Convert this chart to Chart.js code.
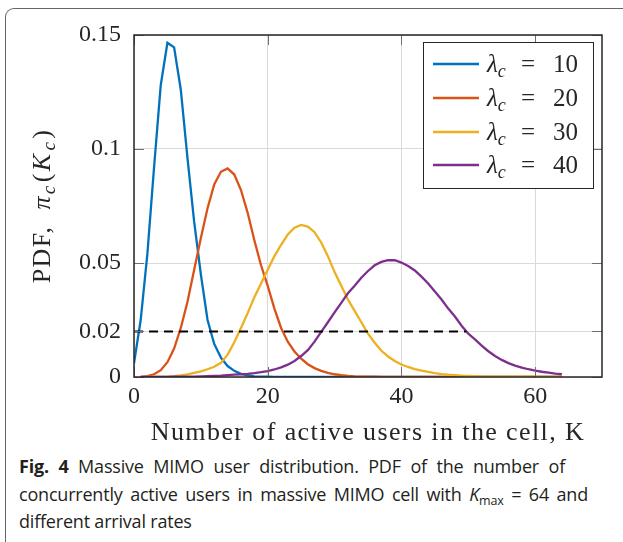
<!DOCTYPE html>
<html>
<head>
<meta charset="utf-8">
<script src="https://cdn.jsdelivr.net/npm/chart.js@4.4.0/dist/chart.umd.min.js"></script>
<style>
  body { margin: 0; background: #fff; width: 623px; height: 542px; overflow: hidden; position: relative; }
  #frame { position: absolute; left: 5px; top: 8px; width: 700px; height: 600px;
           border-left: 1.5px solid #666; border-top: 1.5px solid #666; border-top-left-radius: 9px; }
  #chart { position: absolute; left: 0; top: 0; }
  #caption { position: absolute; left: 19px; top: 453px; font-family: 'Open Sans', sans-serif;
             font-size: 18px; line-height: 27.5px; color: #231f20; white-space: nowrap; letter-spacing: -0.2px; }
  #caption .just { text-align: justify; text-align-last: justify; white-space: normal; }
  #caption b { font-weight: 700; }
  #caption sub { font-size: 12.5px; vertical-align: -4px; line-height: 0; }
</style>
</head>
<body>
<div id="frame"></div>
<canvas id="chart" width="623" height="450"></canvas>
<div id="caption">
  <div class="just" style="width:546px"><b>Fig. 4</b> Massive MIMO user distribution. PDF of the number of</div>
  <div class="just" style="width:569px">concurrently active users in massive MIMO cell with <i>K</i><sub>max</sub> = 64 and</div>
  <div>different arrival rates</div>
</div>
<script>
// Number of users K
const kUsers = [0, 1, 2, 3, 4, 5, 6, 7, 8, 9, 10, 11, 12, 13, 14, 15, 16, 17, 18, 19, 20,
  21, 22, 23, 24, 25, 26, 27, 28, 29, 30, 31, 32, 33, 34, 35, 36, 37, 38, 39, 40,
  41, 42, 43, 44, 45, 46, 47, 48, 49, 50, 51, 52, 53, 54, 55, 56, 57, 58, 59, 60,
  61, 62, 63, 64];

// PDF values, one per K
const pdfLambda10 = [0.006, 0.025, 0.054, 0.092, 0.128, 0.1466, 0.1446, 0.126, 0.096, 0.068, 0.045,
  0.025, 0.0145, 0.0085, 0.0048, 0.0027, 0.0014, 0.0007, 0.0003, 0.0002, 0.0001,
  0, 0, 0, 0, 0, 0, 0, 0, 0, 0, 0, 0, 0, 0, 0, 0, 0, 0, 0, 0,
  0, 0, 0, 0, 0, 0, 0, 0, 0, 0, 0, 0, 0, 0, 0, 0, 0, 0, 0, 0,
  0, 0, 0, 0];
const pdfLambda20 = [null, 0.0001, 0.0004, 0.0012, 0.003, 0.0065, 0.0125, 0.0215, 0.033, 0.047, 0.061,
  0.074, 0.0845, 0.090, 0.0915, 0.0888, 0.082, 0.072, 0.060, 0.049, 0.040,
  0.030, 0.0215, 0.0155, 0.0112, 0.008, 0.0056, 0.0039, 0.0027, 0.0018, 0.0012,
  0.0008, 0.0005, 0.0003, 0.0002, 0.0001, 0.0001, 0, 0, 0, 0,
  0, 0, 0, 0, 0, 0, 0, 0, 0, 0, 0, 0, 0, 0, 0, 0, 0, 0, 0, 0,
  0, 0, 0, 0];
const pdfLambda30 = [null, 0, 0, 0.0001, 0.0001, 0.0002, 0.0004, 0.0007, 0.0012, 0.0018, 0.0025,
  0.0034, 0.0045, 0.0062, 0.0098, 0.0152, 0.0215, 0.028, 0.035, 0.041, 0.047,
  0.053, 0.058, 0.0625, 0.0655, 0.0667, 0.066, 0.0635, 0.059, 0.053, 0.046,
  0.040, 0.034, 0.029, 0.024, 0.019, 0.015, 0.0115, 0.009, 0.007, 0.0055,
  0.0044, 0.0035, 0.0028, 0.0022, 0.0017, 0.0013, 0.001, 0.0008, 0.0006, 0.0005,
  0.0004, 0.0003, 0.0002, 0.0002, 0.0002, 0.0001, 0.0001, 0.0001, 0.0001, 0.0001,
  0, 0, 0, 0];
const pdfLambda40 = [null, 0, 0, 0, 0, 0, 0.0001, 0.0001, 0.0002, 0.0002, 0.0003,
  0.0004, 0.0005, 0.0006, 0.0008, 0.001, 0.0012, 0.0014, 0.0017, 0.0021, 0.0026,
  0.0033, 0.0042, 0.0054, 0.007, 0.0092, 0.0118, 0.0155, 0.0198, 0.024, 0.0283,
  0.0325, 0.0367, 0.040, 0.0435, 0.0465, 0.049, 0.0505, 0.0513, 0.0512, 0.0502,
  0.0487, 0.0467, 0.044, 0.041, 0.0375, 0.034, 0.030, 0.0265, 0.0225, 0.019,
  0.0165, 0.0138, 0.0113, 0.0092, 0.0075, 0.0061, 0.005, 0.0041, 0.0034, 0.0028,
  0.0023, 0.0019, 0.0015, 0.0012];

const lambdaLabels = ['10', '20', '30', '40'];
const lineColors = ['#0072BD', '#D95319', '#EDB120', '#7E2F8E'];

// dashed threshold line
const thresholdK = [0, 49.7];
const thresholdPdf = [0.02, 0.02];

const xTicks = [0, 20, 40, 60];
const yTicks = [0, 0.02, 0.05, 0.1, 0.15];

const SERIF = '"Liberation Serif", "Times New Roman", serif';
const INK = '#262626';

function toPoints(xs, ys) {
    return xs.map((x, i) => ({ x: x, y: ys[i] }));
}

const seriesList = [pdfLambda10, pdfLambda20, pdfLambda30, pdfLambda40];
const datasets = seriesList.map((s, i) => ({
    label: 'λc = ' + lambdaLabels[i],
    data: toPoints(kUsers, s),
    borderColor: lineColors[i],
    borderWidth: 2.3,
    pointRadius: 0,
    tension: 0,
    order: 4 - i
}));
datasets.push({
    label: 'threshold',
    data: toPoints(thresholdK, thresholdPdf),
    borderColor: '#000',
    borderWidth: 2,
    borderDash: [9, 6],
    pointRadius: 0,
    order: 0
});

// draws a run of text pieces (font, text, baseline shift) starting at x
function drawPieces(ctx, pieces, x, y) {
    pieces.forEach(p => {
        ctx.font = p.font;
        ctx.fillText(p.text, x, y + (p.dy || 0));
        x += ctx.measureText(p.text).width + (p.gap || 0);
    });
    return x;
}
function piecesWidth(ctx, pieces) {
    let w = 0;
    pieces.forEach(p => { ctx.font = p.font; w += ctx.measureText(p.text).width + (p.gap || 0); });
    return w;
}

const decorPlugin = {
    id: 'decor',
    afterDraw(chart) {
        const ctx = chart.ctx;
        const a = chart.chartArea;
        const xs = chart.scales.x, ys = chart.scales.y;
        ctx.save();

        // inner tick marks on all four sides
        ctx.strokeStyle = '#707070';
        ctx.lineWidth = 1;
        ctx.beginPath();
        xTicks.forEach(v => {
            const px = Math.round(xs.getPixelForValue(v)) + 0.5;
            ctx.moveTo(px, a.bottom); ctx.lineTo(px, a.bottom - 10);
            ctx.moveTo(px, a.top); ctx.lineTo(px, a.top + 10);
        });
        yTicks.forEach(v => {
            const py = Math.round(ys.getPixelForValue(v)) + 0.5;
            ctx.moveTo(a.left, py); ctx.lineTo(a.left + 10, py);
            ctx.moveTo(a.right, py); ctx.lineTo(a.right - 10, py);
        });
        ctx.stroke();

        // axes box
        ctx.strokeStyle = INK;
        ctx.lineWidth = 1.5;
        ctx.strokeRect(a.left, a.top, a.right - a.left, a.bottom - a.top);

        // legend
        const lx = a.right - 179, ly = a.top + 7, lw = 170, lh = 146;
        ctx.fillStyle = '#fff';
        ctx.fillRect(lx, ly, lw, lh);
        ctx.strokeStyle = INK;
        ctx.lineWidth = 1;
        ctx.strokeRect(lx + 0.5, ly + 0.5, lw, lh);
        const rowY = [64, 98, 132, 165];
        ctx.textBaseline = 'alphabetic';
        for (let i = 0; i < 4; i++) {
            const cy = rowY[i];
            ctx.strokeStyle = lineColors[i];
            ctx.lineWidth = 2.3;
            ctx.beginPath();
            ctx.moveTo(lx + 10, cy); ctx.lineTo(lx + 56, cy);
            ctx.stroke();
            ctx.fillStyle = INK;
            const base = cy + 8;
            drawPieces(ctx, [
                { text: 'λ', font: 'italic 25px ' + SERIF },
                { text: 'c', font: 'italic 18px ' + SERIF, dy: 5 }
            ], lx + 64, base);
            ctx.font = '25px ' + SERIF;
            ctx.textAlign = 'center';
            ctx.fillText('=', lx + 105, base);
            ctx.textAlign = 'left';
            ctx.fillText(lambdaLabels[i], lx + 130, base);
        }

        // x axis title
        ctx.fillStyle = INK;
        ctx.font = '26px ' + SERIF;
        ctx.textAlign = 'center';
        if ('letterSpacing' in ctx) ctx.letterSpacing = '1.4px';
        ctx.fillText('Number of active users in the cell, K', (a.left + a.right) / 2, 440);

        // y axis title, rotated
        ctx.textAlign = 'left';
        const yPieces = [
            { text: 'PDF,', font: '26px ' + SERIF, gap: 16 },
            { text: 'π', font: 'italic 26px ' + SERIF, gap: 1 },
            { text: 'c', font: 'italic 19px ' + SERIF, dy: 5, gap: 2 },
            { text: '(', font: '26px ' + SERIF, gap: 1 },
            { text: 'K', font: 'italic 26px ' + SERIF, gap: 2 },
            { text: 'c', font: 'italic 19px ' + SERIF, dy: 5, gap: 2 },
            { text: ')', font: '26px ' + SERIF }
        ];
        ctx.translate(50, (a.top + a.bottom) / 2);
        ctx.rotate(-Math.PI / 2);
        drawPieces(ctx, yPieces, -piecesWidth(ctx, yPieces) / 2, 0);
        if ('letterSpacing' in ctx) ctx.letterSpacing = '0px';

        ctx.restore();
    }
};

new Chart(document.getElementById('chart'), {
    type: 'line',
    data: { datasets: datasets },
    options: {
        responsive: false,
        animation: false,
        devicePixelRatio: 1,
        layout: { padding: { top: 35, right: 21, left: 0, bottom: 0 } },
        plugins: { legend: { display: false }, tooltip: { enabled: false } },
        scales: {
            x: {
                type: 'linear',
                min: 0,
                max: 70,
                afterBuildTicks: s => { s.ticks = xTicks.map(v => ({ value: v })); },
                afterFit: s => { s.height = 73; },
                grid: { color: '#dadada', lineWidth: 1, drawTicks: false },
                border: { display: false },
                ticks: { font: { family: SERIF, size: 24 }, color: INK, padding: 5, maxRotation: 0 }
            },
            y: {
                min: 0,
                max: 0.15,
                afterBuildTicks: s => { s.ticks = yTicks.map(v => ({ value: v })); },
                afterFit: s => { s.width = 134; },
                grid: { color: '#dadada', lineWidth: 1, drawTicks: false },
                border: { display: false },
                ticks: { font: { family: SERIF, size: 24 }, color: INK, padding: 13,
                         callback: v => String(v) }
            }
        }
    },
    plugins: [decorPlugin]
});
</script>
</body>
</html>
